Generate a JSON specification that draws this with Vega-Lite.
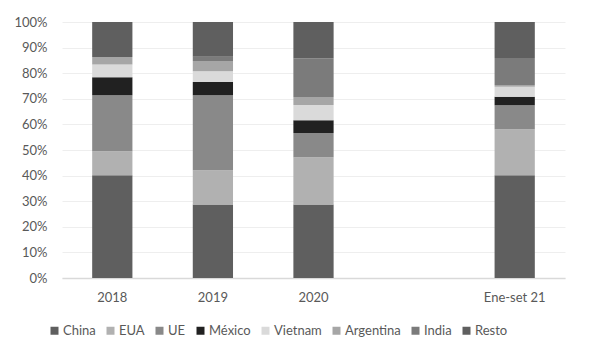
{
  "$schema": "https://vega.github.io/schema/vega-lite/v6.json",
  "width": 503,
  "height": 256,
  "autosize": "none",
  "padding": {"left": 62, "top": 22, "right": 24, "bottom": 80},
  "background": "white",
  "data": {"values": [
    {"periodo": "2018", "pais": "China", "valor": 40.1},
    {"periodo": "2018", "pais": "EUA", "valor": 9.4},
    {"periodo": "2018", "pais": "UE", "valor": 21.9},
    {"periodo": "2018", "pais": "México", "valor": 7.0},
    {"periodo": "2018", "pais": "Vietnam", "valor": 5.0},
    {"periodo": "2018", "pais": "Argentina", "valor": 2.9},
    {"periodo": "2018", "pais": "India", "valor": 0.0},
    {"periodo": "2018", "pais": "Resto", "valor": 13.7},
    {"periodo": "2019", "pais": "China", "valor": 28.7},
    {"periodo": "2019", "pais": "EUA", "valor": 13.4},
    {"periodo": "2019", "pais": "UE", "valor": 29.3},
    {"periodo": "2019", "pais": "México", "valor": 5.2},
    {"periodo": "2019", "pais": "Vietnam", "valor": 4.2},
    {"periodo": "2019", "pais": "Argentina", "valor": 4.0},
    {"periodo": "2019", "pais": "India", "valor": 1.6},
    {"periodo": "2019", "pais": "Resto", "valor": 13.6},
    {"periodo": "2020", "pais": "China", "valor": 28.7},
    {"periodo": "2020", "pais": "EUA", "valor": 18.5},
    {"periodo": "2020", "pais": "UE", "valor": 9.4},
    {"periodo": "2020", "pais": "México", "valor": 5.0},
    {"periodo": "2020", "pais": "Vietnam", "valor": 6.0},
    {"periodo": "2020", "pais": "Argentina", "valor": 3.1},
    {"periodo": "2020", "pais": "India", "valor": 15.1},
    {"periodo": "2020", "pais": "Resto", "valor": 14.2},
    {"periodo": "Ene-set 21", "pais": "China", "valor": 40.1},
    {"periodo": "Ene-set 21", "pais": "EUA", "valor": 18.0},
    {"periodo": "Ene-set 21", "pais": "UE", "valor": 9.4},
    {"periodo": "Ene-set 21", "pais": "México", "valor": 3.3},
    {"periodo": "Ene-set 21", "pais": "Vietnam", "valor": 3.9},
    {"periodo": "Ene-set 21", "pais": "Argentina", "valor": 0.7},
    {"periodo": "Ene-set 21", "pais": "India", "valor": 10.5},
    {"periodo": "Ene-set 21", "pais": "Resto", "valor": 14.1}
  ]},
  "transform": [
    {"calculate": "indexof(['China', 'EUA', 'UE', 'México', 'Vietnam', 'Argentina', 'India', 'Resto'], datum.pais)", "as": "orden"}
  ],
  "mark": {"type": "bar"},
  "encoding": {
    "x": {
      "field": "periodo", "type": "nominal",
      "scale": {"domain": ["2018", "2019", "2020", " ", "Ene-set 21"], "paddingInner": 0.6, "paddingOuter": 0.3},
      "sort": null,
      "axis": {"title": null, "labelAngle": 0, "ticks": false, "domain": true, "domainColor": "#d9d9d9", "domainWidth": 1.3, "labelPadding": 13, "grid": false}
    },
    "y": {
      "field": "valor", "type": "quantitative", "stack": "normalize",
      "scale": {"domain": [0, 1]},
      "axis": {"title": null, "values": [0, 0.1, 0.2, 0.3, 0.4, 0.5, 0.6, 0.7, 0.8, 0.9, 1], "format": ".0%", "domain": false, "ticks": false, "grid": true, "gridColor": "#eeeeee", "gridWidth": 1, "labelPadding": 15}
    },
    "color": {
      "field": "pais", "type": "nominal",
      "sort": ["China", "EUA", "UE", "México", "Vietnam", "Argentina", "India", "Resto"],
      "scale": {
        "domain": ["China", "EUA", "UE", "México", "Vietnam", "Argentina", "India", "Resto"],
        "range": ["#5f5f5f", "#b1b1b1", "#898989", "#212121", "#dadada", "#a6a6a6", "#7b7b7b", "#5f5f5f"]
      },
      "legend": {
        "title": null, "orient": "none", "direction": "horizontal", "columns": 8,
        "legendX": -14, "legendY": 302, "padding": 0,
        "symbolType": "square", "symbolSize": 64, "symbolStrokeWidth": 0,
        "labelOffset": 2, "columnPadding": 8, "labelFontSize": 13, "labelColor": "#595959", "labelFont": "Lato"
      }
    },
    "order": {"field": "orden", "type": "quantitative", "sort": "ascending"}
  },
  "config": {
    "view": {"stroke": null},
    "font": "Lato",
    "axis": {"labelFont": "Lato", "labelFontSize": 13, "labelColor": "#595959"}
  }
}
